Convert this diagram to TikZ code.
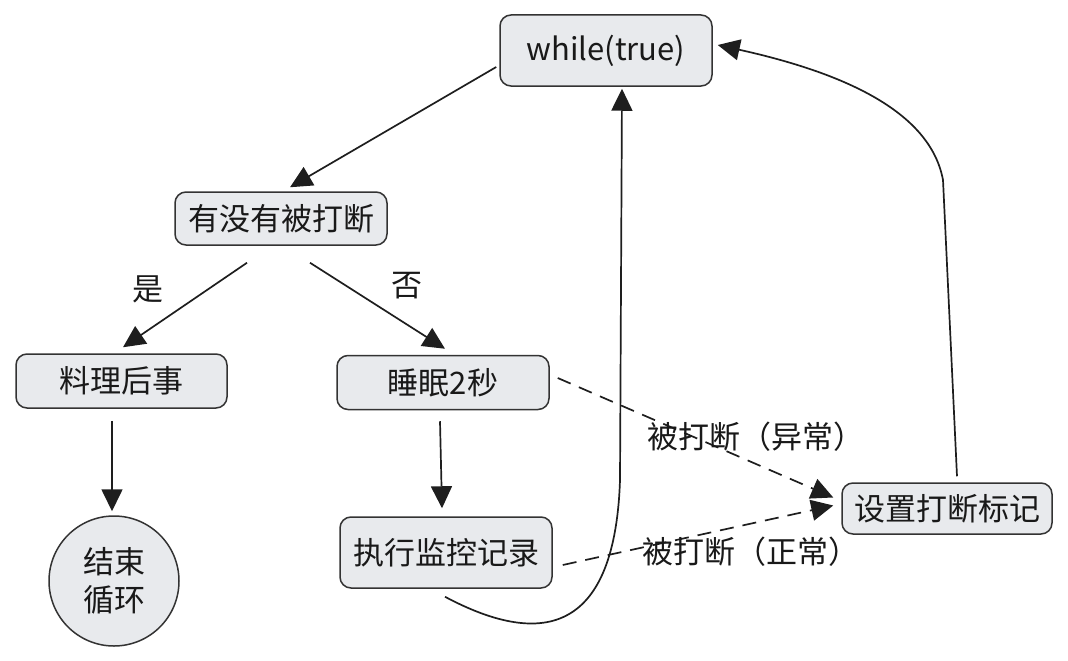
\documentclass[tikz,border=0pt]{standalone}
\usepackage{fontspec}
\setmainfont{Noto Sans CJK SC}
\usetikzlibrary{arrows.meta,calc}
\definecolor{boxfill}{HTML}{E8EAED}
\definecolor{linec}{HTML}{333333}
\definecolor{arrc}{HTML}{1E1E1E}
\begin{document}
\begin{tikzpicture}[x=1pt,y=-1pt,
  every node/.style={font=\fontsize{31}{38}\selectfont, text=black!90},
  box/.style={draw=linec, fill=boxfill, rounded corners=11pt, line width=1.5pt, inner sep=0pt, align=center},
  circ/.style={draw=linec, fill=boxfill, circle, line width=1.5pt, inner sep=0pt, align=center},
  arr/.style={draw=arrc, line width=1.7pt, -{Triangle[length=22pt,width=21pt]}},
  darr/.style={arr, dash pattern=on 14pt off 9pt},
  lbl/.style={inner sep=0pt}]
\useasboundingbox (0,0) rectangle (1068,661);
\node[box, minimum width=212, minimum height=71] (while) at (606,50.5) {while(true)};
\node[box, minimum width=212, minimum height=53] (q) at (281,218.5) {有没有被打断};
\node[box, minimum width=211, minimum height=54] (after) at (121.5,381) {料理后事};
\node[box, minimum width=212, minimum height=54] (sleep) at (443,382.5) {睡眠2秒};
\node[box, minimum width=212, minimum height=71] (exec) at (446,552.5) {执行监控记录};
\node[circ, minimum size=130] (end) at (114,581) {结束\\循环};
\node[box, minimum width=210, minimum height=51] (flag) at (947,508.5) {设置打断标记};

\draw[arr] ($(while.west)+(-3,16.5)$) -- ($(q.north)+(9,-4)$);
\draw[arr] ($(q.south)+(-34,17)$) -- ($(after.north)+(1.5,-6)$);
\draw[arr] ($(q.south)+(29,17)$) -- ($(sleep.north)+(2,-6)$);
\draw[arr] ($(after.south)+(-9.5,12)$) -- ($(end.north)+(-2,-4)$);
\draw[arr] ($(sleep.south)+(-3,11)$) -- ($(exec.north)+(-4,-8)$);
\draw[darr] ($(sleep.east)+(8,-4.5)$) -- ($(flag.west)+(-8,-11)$);
\draw[darr] ($(exec.east)+(10,12.5)$) -- ($(flag.west)+(-8,-3)$);
\draw[arr] ($(exec.south)+(-1,8)$) .. controls (545,650) and (615,630) .. (620,480) -- ($(while.south)+(16,2)$);
\draw[arr] ($(flag.north)+(10,-6)$) -- (943,180) .. controls (930,110) and (840,72) .. ($(while.east)+(5,-5.5)$);

\node[lbl] (yes) at (148,289) {是};
\node[lbl] (no) at (407,286) {否};
\node[lbl] (l1) at (756,437) {被打断（异常）};
\node[lbl] (l2) at (751,552) {被打断（正常）};
\end{tikzpicture}
\end{document}
